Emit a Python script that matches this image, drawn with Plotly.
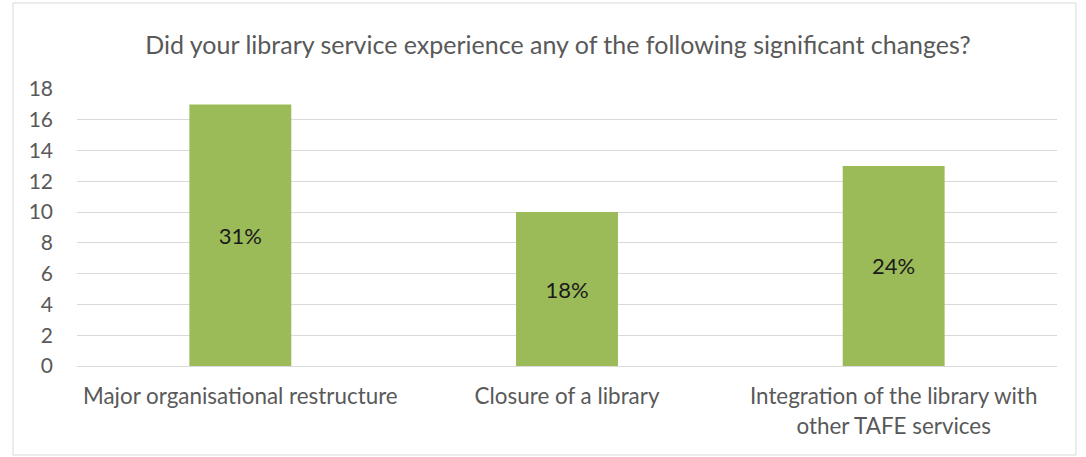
import plotly.graph_objects as go

categories = [
    "Major organisational restructure",
    "Closure of a library",
    "Integration of the library with<br>other TAFE services",
]
counts = [17, 10, 13]
percent_labels = ["31%", "18%", "24%"]
y_ticks = [0, 2, 4, 6, 8, 10, 12, 14, 16, 18]

FONT = "Lato, 'Open Sans', sans-serif"
GREY = "#595959"

fig = go.Figure(
    go.Bar(
        x=categories,
        y=counts,
        text=percent_labels,
        textposition="inside",
        insidetextanchor="middle",
        textangle=0,
        textfont=dict(family=FONT, size=22, color="#1A1A1A"),
        marker=dict(color="#9BBB59", line=dict(width=0)),
        hoverinfo="skip",
    )
)

W, H = 1086, 457
L, R, T, B = 77, 29, 89, 91
pw, ph = W - L - R, H - T - B

def px_to_paper_x(px):
    return (px - L) / pw

def px_to_paper_y(py):
    return (H - B - py) / ph

fig.update_layout(
    width=W,
    height=H,
    margin=dict(l=L, r=R, t=T, b=B),
    paper_bgcolor="white",
    plot_bgcolor="white",
    bargap=0.688,
    showlegend=False,
    font=dict(family=FONT, color=GREY),
    title=dict(
        text="Did your library service experience any of the following significant changes?",
        xref="container",
        x=558 / W,
        xanchor="center",
        y=1 - 45 / H,
        yanchor="middle",
        font=dict(family=FONT, size=25, color=GREY),
    ),
    xaxis=dict(
        showgrid=False,
        showline=False,
        ticks="",
        ticklabelstandoff=15,
        tickfont=dict(family=FONT, size=22.4, color=GREY),
    ),
    yaxis=dict(
        range=[0, 18],
        tickvals=y_ticks,
        showgrid=True,
        gridcolor="#D9D9D9",
        gridwidth=1,
        zeroline=True,
        zerolinecolor="#D9D9D9",
        zerolinewidth=1,
        showline=False,
        ticks="",
        ticklabelstandoff=23,
        tickfont=dict(family=FONT, size=21, color=GREY),
    ),
    shapes=[
        dict(
            type="rect",
            xref="paper",
            yref="paper",
            x0=px_to_paper_x(13),
            x1=px_to_paper_x(1076),
            y0=px_to_paper_y(455),
            y1=px_to_paper_y(3),
            line=dict(color="#D9D9D9", width=1),
            fillcolor="rgba(0,0,0,0)",
            layer="below",
        )
    ],
)

fig.write_html("out.html")
